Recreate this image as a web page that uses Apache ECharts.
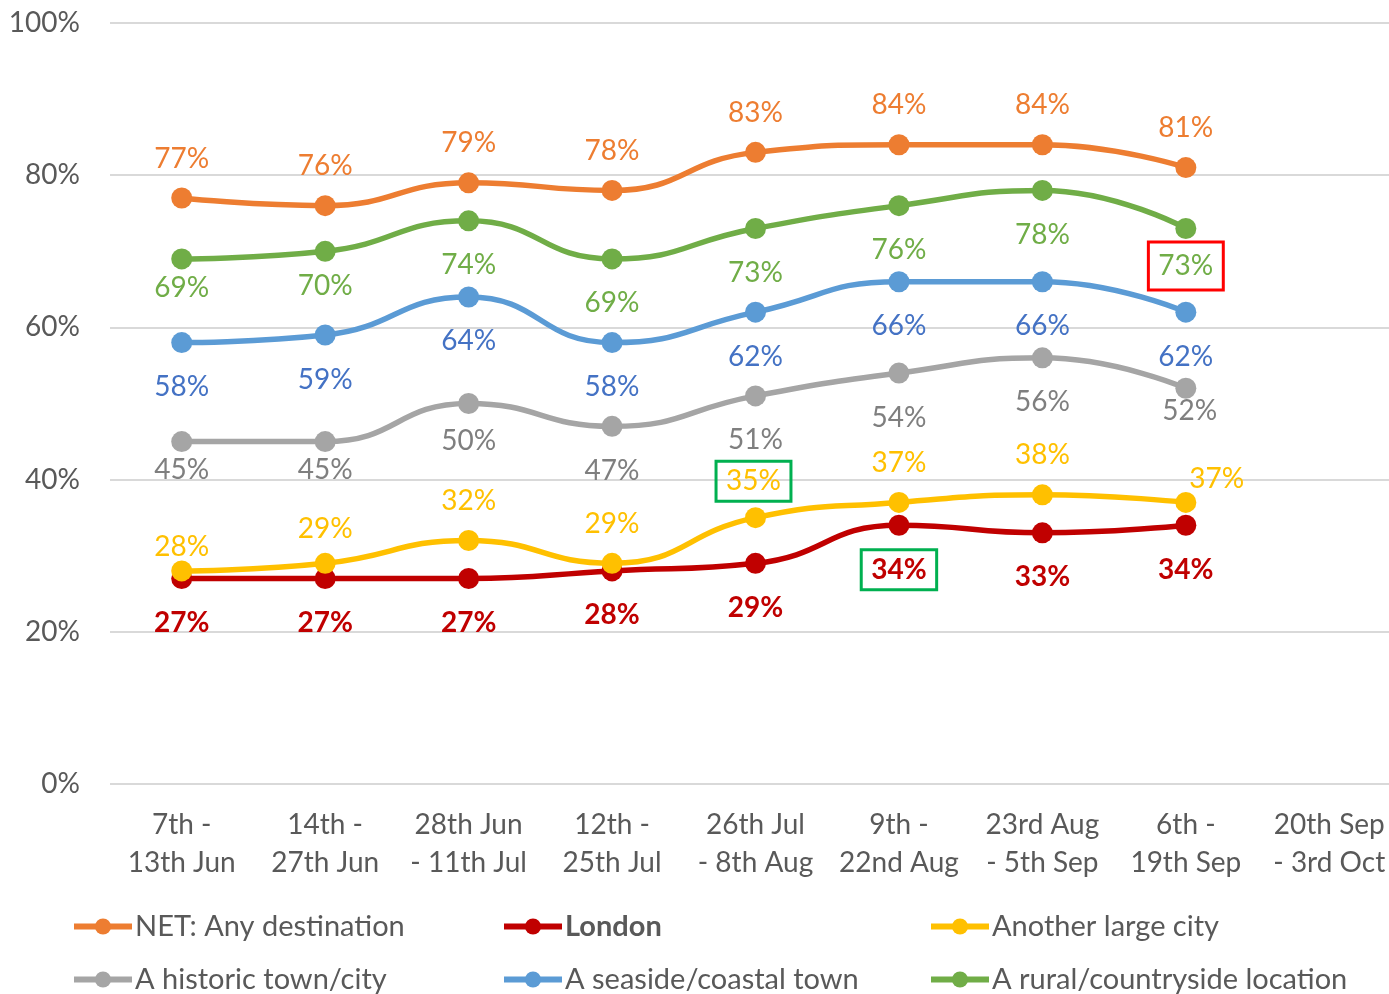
<!DOCTYPE html>
<html>
<head>
<meta charset="utf-8">
<script src="https://cdn.jsdelivr.net/npm/echarts@6/dist/echarts.min.js"></script>
<style>
  html, body { margin: 0; padding: 0; background: #fff; overflow: hidden; }
  #chart { width: 1401px; height: 994px; }
</style>
</head>
<body>
<div id="chart"></div>
<script>
// categories (last period has no data yet)
var periods = ['7th -\n13th Jun', '14th -\n27th Jun', '28th Jun\n- 11th Jul', '12th -\n25th Jul',
  '26th Jul\n- 8th Aug', '9th -\n22nd Aug', '23rd Aug\n- 5th Sep', '6th -\n19th Sep', '20th Sep\n- 3rd Oct']
var yTicks = [0, 20, 40, 60, 80, 100]

var netAny = [77, 76, 79, 78, 83, 84, 84, 81]
var london = [27, 27, 27, 28, 29, 34, 33, 34]
var largeCity = [28, 29, 32, 29, 35, 37, 38, 37]
var historic = [45, 45, 50, 47, 51, 54, 56, 52]
var seaside = [58, 59, 64, 58, 62, 66, 66, 62]
var rural = [69, 70, 74, 69, 73, 76, 78, 73]

var FONT = 'Lato'

// per-point label tweaks (offsets, highlight boxes)
var greenBox = { borderColor: '#00B050', borderWidth: 3, padding: [6, 10] }
var redBox = { borderColor: '#FF0000', borderWidth: 3, padding: [10, 10] }

function build(values, tweaks) {
  return values.map(function (v, i) {
    if (tweaks && tweaks[i]) return { value: v, label: tweaks[i] }
    return v
  })
}

function lineSeries(name, color, textColor, values, pos, tweaks, bold) {
  return {
    name: name,
    type: 'line',
    smooth: true,
    symbol: 'circle',
    symbolSize: 21,
    lineStyle: { width: 5.5, color: color },
    itemStyle: { color: color },
    label: {
      show: true,
      position: pos,
      distance: pos === 'top' ? 15 : 20,
      formatter: '{c}%',
      color: textColor,
      fontFamily: FONT,
      fontSize: 28,
      fontWeight: bold ? 'bold' : 'normal'
    },
    data: build(values, tweaks)
  }
}

function legendAt(name, left, top, bold) {
  return {
    data: [name],
    left: left,
    top: top,
    padding: 0,
    itemWidth: 58,
    itemHeight: 20,
    itemGap: 0,
    lineStyle: { width: 6 },
    textStyle: { fontFamily: FONT, fontSize: 29, color: '#595959', fontWeight: bold ? 'bold' : 'normal', padding: [0, 0, 0, -2] }
  }
}

var chart = echarts.init(document.getElementById('chart'))
chart.setOption({
  animation: false,
  textStyle: { fontFamily: FONT },
  // chart is 12px wider than the window so the last category sits at the cut edge
  grid: { left: 110, top: 23, right: 0, height: 761, containLabel: false },
  legend: [
    legendAt('NET: Any destination', 71, 912),
    legendAt('London', 501, 912, true),
    legendAt('Another large city', 928, 912),
    legendAt('A historic town/city', 71, 965),
    legendAt('A seaside/coastal town', 501, 965),
    legendAt('A rural/countryside location', 928, 965)
  ],
  xAxis: {
    type: 'category',
    data: periods,
    boundaryGap: true,
    axisLine: { show: false },
    axisTick: { show: false },
    axisLabel: { interval: 0, color: '#595959', fontFamily: FONT, fontSize: 28, lineHeight: 38, margin: 22 }
  },
  yAxis: {
    type: 'value',
    min: yTicks[0],
    max: yTicks[yTicks.length - 1],
    interval: 20,
    axisLine: { show: false },
    axisTick: { show: false },
    axisLabel: { formatter: '{value}%', color: '#595959', fontFamily: FONT, fontSize: 28, margin: 30 },
    splitLine: { lineStyle: { color: '#D9D9D9', width: 2 } }
  },
  series: [
    lineSeries('NET: Any destination', '#ED7D31', '#ED7D31', netAny, 'top'),
    lineSeries('London', '#C00000', '#C00000', london, 'bottom', {
      5: Object.assign({ offset: [0, -6] }, greenBox)
    }, true),
    lineSeries('Another large city', '#FFC000', '#FFC000', largeCity, 'top', {
      0: { offset: [0, 16] },
      1: { offset: [0, 5] },
      4: Object.assign({ offset: [-2, 9] }, greenBox),
      7: { offset: [31, 16] }
    }),
    lineSeries('A historic town/city', '#A5A5A5', '#7F7F7F', historic, 'bottom', {
      0: { offset: [0, -16] },
      1: { offset: [0, -16] },
      2: { offset: [0, -7] },
      7: { offset: [4, -22] }
    }),
    lineSeries('A seaside/coastal town', '#5B9BD5', '#4472C4', seaside, 'bottom'),
    lineSeries('A rural/countryside location', '#70AD47', '#70AD47', rural, 'bottom', {
      0: { offset: [0, -15] },
      1: { offset: [0, -10] },
      7: Object.assign({ offset: [0, -17] }, redBox)
    })
  ]
})
</script>
</body>
</html>
